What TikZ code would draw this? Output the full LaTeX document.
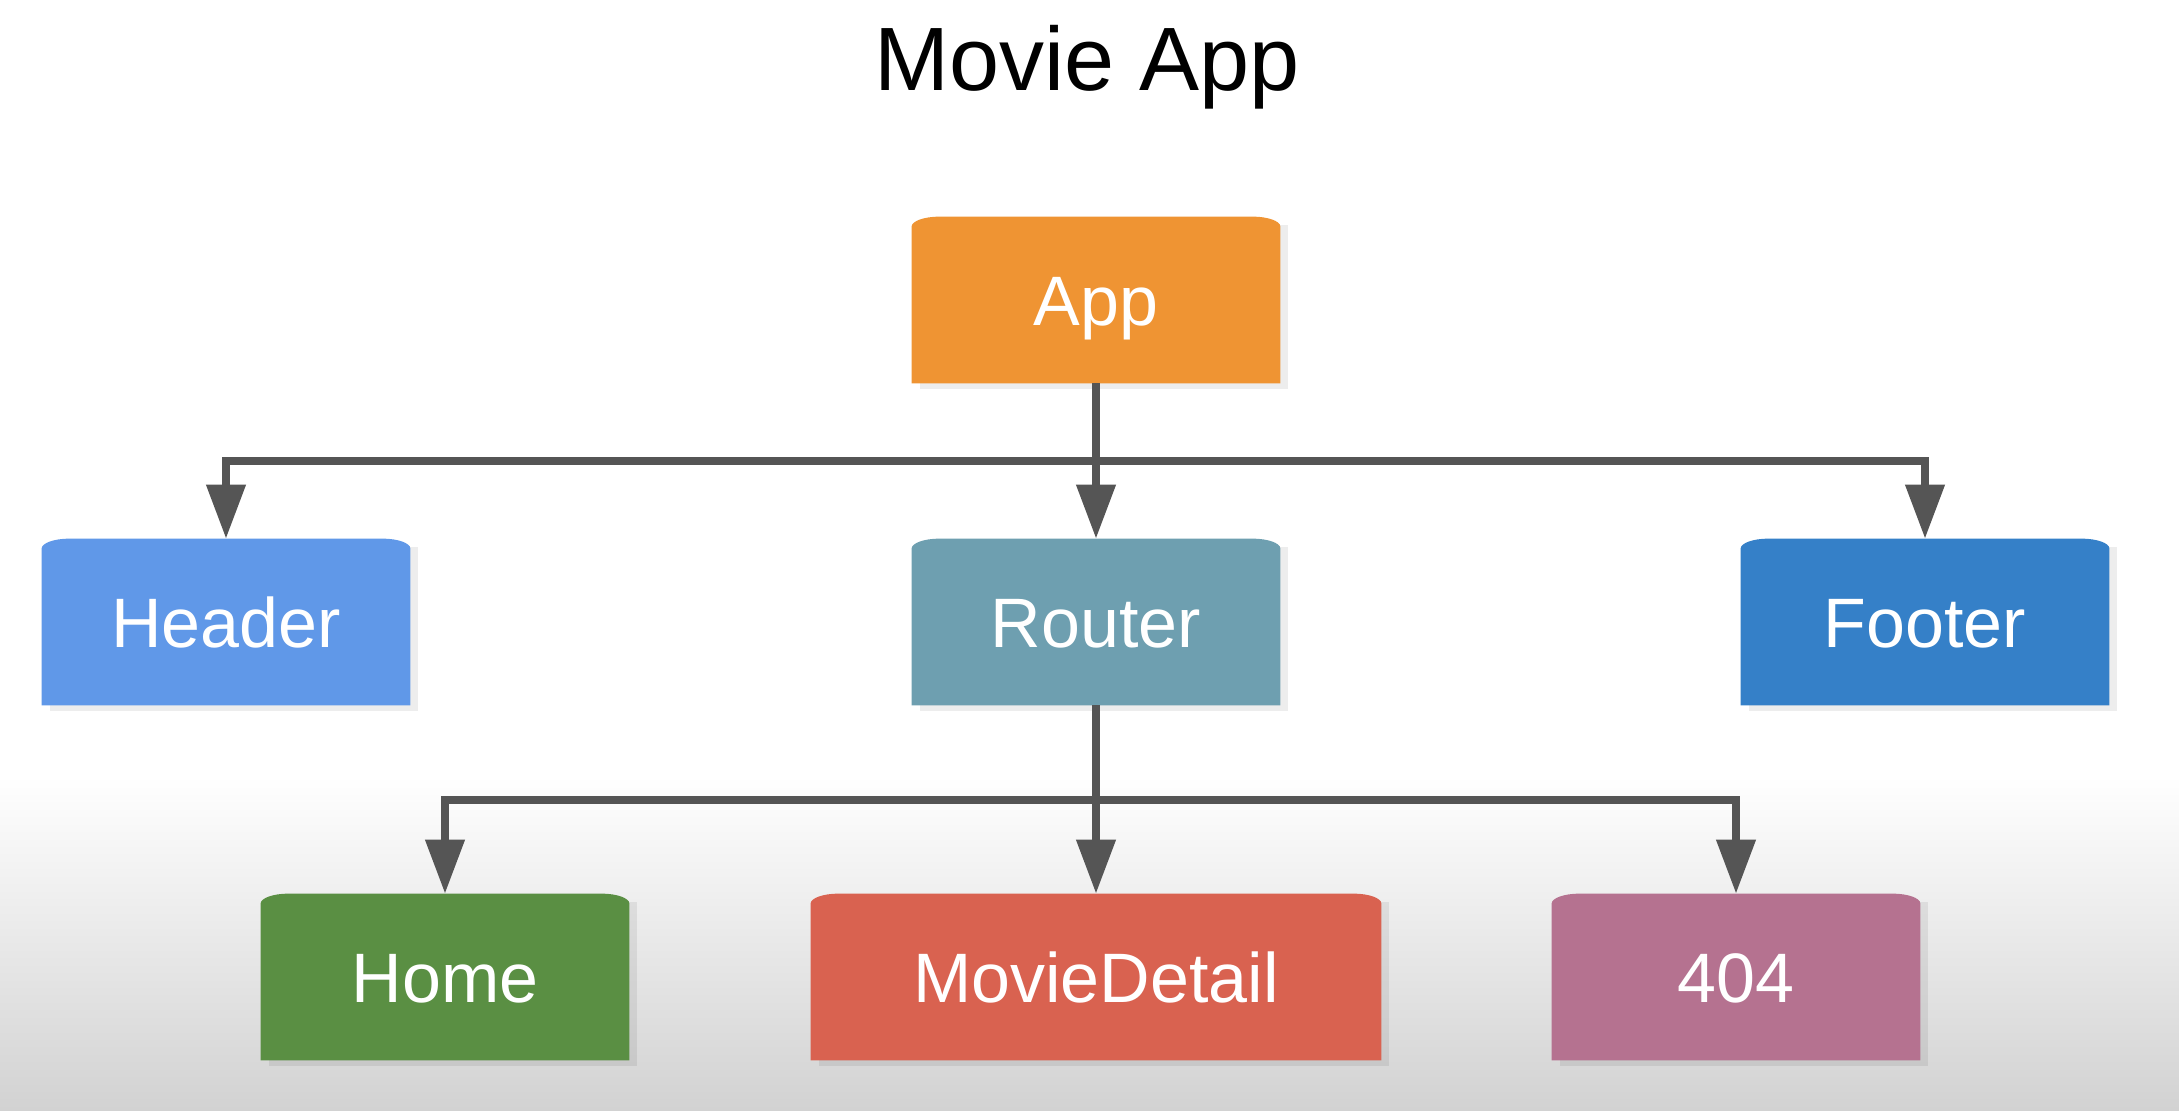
\documentclass[tikz,border=0pt]{standalone}
\usepackage{fontspec}
\setmainfont{Liberation Sans}
\usepackage{tikz}
\usetikzlibrary{arrows.meta}
\usetikzlibrary{backgrounds}

\definecolor{appcol}{RGB}{239,148,51}
\definecolor{headcol}{RGB}{96,152,232}
\definecolor{routecol}{RGB}{110,159,176}
\definecolor{footcol}{RGB}{53,128,200}
\definecolor{homecol}{RGB}{90,143,67}
\definecolor{detailcol}{RGB}{217,98,80}
\definecolor{errcol}{RGB}{181,114,144}
\definecolor{linecol}{RGB}{85,85,85}
\definecolor{bggray}{RGB}{210,210,210}

\tikzset{
    comp/.style={minimum width=184pt, minimum height=83pt, inner sep=0pt,
        text=white, text height=25pt, text depth=0pt,
        font=\fontsize{35}{40}\selectfont},
    link/.style={draw=linecol, line width=3.8pt,
        -{Triangle[width=19pt,length=27pt]}},
    soft shadow/.style={black, opacity=0.07}
}

\begin{document}
\begin{tikzpicture}[x=0.5pt, y=-0.5pt]
    \useasboundingbox (0,0) rectangle (2179,1110);
    \node[font=\fontsize{45}{54}\selectfont, anchor=base] (title) at (1087,90) {Movie App};

    \node[comp] (app) at (1096,300) {App};
    \node[comp] (header) at (226,622) {Header};
    \node[comp] (router) at (1096,622) {Router};
    \node[comp] (footer) at (1925,622) {Footer};
    \node[comp] (home) at (445,977) {Home};
    \node[comp, minimum width=285pt] (detail) at (1096,977) {MovieDetail};
    \node[comp] (notfound) at (1736,977) {404};

    \coordinate (topbar) at (1096,461);
    \coordinate (lowbar) at (1096,800);

    \draw[link] (app.south) -- (router.north);
    \draw[link] (topbar) -| (header.north);
    \draw[link] (topbar) -| (footer.north);
    \draw[link] (router.south) -- (detail.north);
    \draw[link] (lowbar) -| (home.north);
    \draw[link] (lowbar) -| (notfound.north);

    \begin{scope}[on background layer]
        \fill[white] (0,0) rectangle (2179,777);
        \shade[top color=white, bottom color=bggray] (0,776) rectangle (2179,1110);
        % boxes with the soft top corners
        \foreach \n/\c in {app/appcol, header/headcol, router/routecol, footer/footcol,
                           home/homecol, detail/detailcol, notfound/errcol} {
            \fill[soft shadow] ([xshift=4pt,yshift=-3pt]\n.south west) rectangle ([xshift=4pt,yshift=-4pt]\n.north east);
            \fill[\c] (\n.south west) -- ([yshift=-5pt]\n.north west)
                arc[start angle=180, end angle=90, x radius=14pt, y radius=5pt]
                -- ([xshift=-14pt]\n.north east)
                arc[start angle=90, end angle=0, x radius=14pt, y radius=5pt]
                -- (\n.south east) -- cycle;
        }
    \end{scope}
\end{tikzpicture}
\end{document}
